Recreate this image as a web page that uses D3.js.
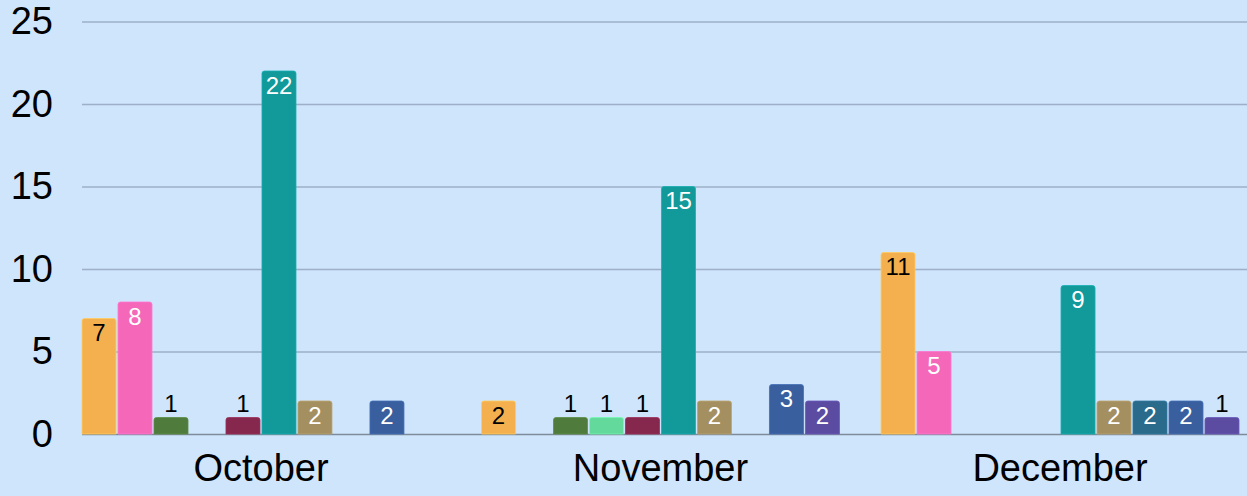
<!DOCTYPE html>
<html>
<head>
<meta charset="utf-8">
<script src="https://cdn.jsdelivr.net/npm/d3@7"></script>
<style>
  html, body { margin: 0; padding: 0; background: #cfe5fc; }
  svg { display: block; font-family: 'Liberation Sans', Arial, sans-serif; }
</style>
</head>
<body>
<div id="chart"></div>
<script>
// chart data
const months = ['October', 'November', 'December'];
const seriesKeys = ['s1', 's2', 's3', 's4', 's5', 's6', 's7', 's8', 's9', 's10'];
const seriesColors = ['#f4b04e', '#f567b9', '#4f7b3c', '#63d99b', '#86284d', '#12999a', '#a48f61', '#2a6a8b', '#3a5f9e', '#5b4ca2'];
const labelColors = ['#000', '#fff', '#fff', '#000', '#fff', '#fff', '#fff', '#fff', '#fff', '#fff'];
const octValues = [7, 8, 1, null, 1, 22, 2, null, 2, null];
const novValues = [2, null, 1, 1, 1, 15, 2, null, 3, 2];
const decValues = [11, 5, null, null, null, 9, 2, 2, 2, 1];
const yTicks = [0, 5, 10, 15, 20, 25];

const width = 1247;
const height = 496;
const margin = { top: 21.5, left: 82, bottom: 62, right: 8 };

const rows = [octValues, novValues, decValues].map((vals, i) => ({
  month: months[i],
  bars: vals.map((v, j) => ({ key: seriesKeys[j], value: v, idx: j }))
}));

const svg = d3.select('#chart')
  .append('svg')
  .attr('width', width)
  .attr('height', height);

// scales
const x0 = d3.scaleBand()
  .domain(months)
  .range([margin.left, width - margin.right])
  .paddingInner(0.104)
  .paddingOuter(0);

const x1 = d3.scaleBand()
  .domain(seriesKeys)
  .range([0, x0.bandwidth()])
  .paddingInner(0.055);

const y = d3.scaleLinear()
  .domain([0, 25])
  .range([height - margin.bottom, margin.top]);

// grid + y labels
const yAxis = (g) =>
  g
    .attr('transform', `translate(${margin.left}, 0)`)
    .call(d3.axisLeft(y).tickValues(yTicks).tickSize(-(width - margin.left)).tickPadding(29))
    .call((g) => g.select('.domain').remove())
    .call((g) => g.selectAll('.tick line')
      .attr('stroke', (d) => (d === 0 ? '#7d8b9b' : '#9db0c8'))
      .attr('stroke-width', 1.3))
    .call((g) => g.selectAll('.tick text')
      .attr('font-size', 38)
      .attr('fill', '#000')
      .attr('font-family', "'Liberation Sans', Arial, sans-serif"));

svg.append('g').call(yAxis);

// x labels
const xAxis = (g) =>
  g
    .attr('transform', `translate(0, ${height - margin.bottom})`)
    .call(d3.axisBottom(x0).tickSize(0).tickPadding(20))
    .call((g) => g.select('.domain').remove())
    .call((g) => g.selectAll('.tick text')
      .attr('font-size', 38)
      .attr('fill', '#000')
      .attr('dy', '0.71em')
      .attr('font-family', "'Liberation Sans', Arial, sans-serif"));

svg.append('g').call(xAxis);

// bars with rounded top corners
const barPath = (d) => {
  const bx = x1(d.key);
  const bw = x1.bandwidth();
  const top = y(d.value);
  const base = y(0);
  const r = 2.5;
  return `M${bx},${base}V${top + r}Q${bx},${top} ${bx + r},${top}H${bx + bw - r}Q${bx + bw},${top} ${bx + bw},${top + r}V${base}Z`;
};

const groups = svg.append('g')
  .selectAll('g')
  .data(rows)
  .enter()
  .append('g')
  .attr('transform', (d) => `translate(${x0(d.month)}, 0)`);

const bars = groups.selectAll('g.bar')
  .data((d) => d.bars.filter((b) => b.value != null))
  .enter()
  .append('g')
  .attr('class', 'bar');

bars.append('path')
  .attr('d', barPath)
  .attr('fill', (d) => seriesColors[d.idx])
  .attr('stroke', (d) => d3.color(seriesColors[d.idx]).brighter(0.4))
  .attr('stroke-width', 0.8);

// value labels: inside when the bar is tall enough, above otherwise
bars.append('text')
  .attr('x', (d) => x1(d.key) + x1.bandwidth() / 2)
  .attr('y', (d) => {
    const inside = y(0) - y(d.value) > 28;
    return inside ? y(d.value) + 22.5 : y(d.value) - 6;
  })
  .attr('text-anchor', 'middle')
  .attr('font-size', 24)
  .attr('fill', (d) => (y(0) - y(d.value) > 28 ? labelColors[d.idx] : '#000'))
  .text((d) => d.value);
</script>
</body>
</html>
